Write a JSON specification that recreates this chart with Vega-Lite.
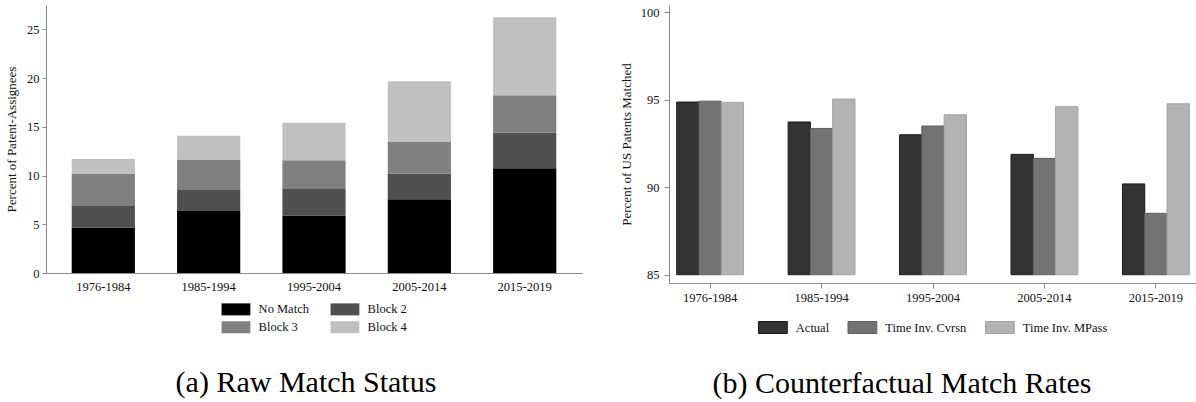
{
  "$schema": "https://vega.github.io/schema/vega-lite/v6.json",
  "padding": {"left": 5, "top": 5, "right": 0, "bottom": 0},
  "spacing": 38,
  "config": {
    "font": "Liberation Serif",
    "view": {"stroke": null},
    "axis": {
      "labelFont": "Liberation Serif", "titleFont": "Liberation Serif",
      "labelFontSize": 12.5, "titleFontSize": 13, "titleFontWeight": "normal",
      "labelColor": "#111111", "titleColor": "#111111",
      "domainColor": "#8a8a8a", "tickColor": "#8a8a8a", "grid": false
    },
    "legend": {
      "labelFont": "Liberation Serif", "labelFontSize": 12.5, "labelColor": "#111111"
    },
    "title": {"font": "Liberation Serif", "fontSize": 30, "fontWeight": "normal", "color": "#000000"}
  },
  "datasets": {
    "raw": [
      {"period": "1976-1984", "status": "No Match", "ord": 1, "pct": 4.67},
      {"period": "1976-1984", "status": "Block 2", "ord": 2, "pct": 2.29},
      {"period": "1976-1984", "status": "Block 3", "ord": 3, "pct": 3.24},
      {"period": "1976-1984", "status": "Block 4", "ord": 4, "pct": 1.5},
      {"period": "1985-1994", "status": "No Match", "ord": 1, "pct": 6.37},
      {"period": "1985-1994", "status": "Block 2", "ord": 2, "pct": 2.23},
      {"period": "1985-1994", "status": "Block 3", "ord": 3, "pct": 3.05},
      {"period": "1985-1994", "status": "Block 4", "ord": 4, "pct": 2.43},
      {"period": "1995-2004", "status": "No Match", "ord": 1, "pct": 5.9},
      {"period": "1995-2004", "status": "Block 2", "ord": 2, "pct": 2.8},
      {"period": "1995-2004", "status": "Block 3", "ord": 3, "pct": 2.88},
      {"period": "1995-2004", "status": "Block 4", "ord": 4, "pct": 3.84},
      {"period": "2005-2014", "status": "No Match", "ord": 1, "pct": 7.57},
      {"period": "2005-2014", "status": "Block 2", "ord": 2, "pct": 2.63},
      {"period": "2005-2014", "status": "Block 3", "ord": 3, "pct": 3.3},
      {"period": "2005-2014", "status": "Block 4", "ord": 4, "pct": 6.17},
      {"period": "2015-2019", "status": "No Match", "ord": 1, "pct": 10.76},
      {"period": "2015-2019", "status": "Block 2", "ord": 2, "pct": 3.64},
      {"period": "2015-2019", "status": "Block 3", "ord": 3, "pct": 3.83},
      {"period": "2015-2019", "status": "Block 4", "ord": 4, "pct": 8.02}
    ],
    "cf": [
      {"period": "1976-1984", "series": "Actual", "rate": 94.87},
      {"period": "1976-1984", "series": "Time Inv. Cvrsn", "rate": 94.92},
      {"period": "1976-1984", "series": "Time Inv. MPass", "rate": 94.85},
      {"period": "1985-1994", "series": "Actual", "rate": 93.73},
      {"period": "1985-1994", "series": "Time Inv. Cvrsn", "rate": 93.36},
      {"period": "1985-1994", "series": "Time Inv. MPass", "rate": 95.04},
      {"period": "1995-2004", "series": "Actual", "rate": 93.0},
      {"period": "1995-2004", "series": "Time Inv. Cvrsn", "rate": 93.5},
      {"period": "1995-2004", "series": "Time Inv. MPass", "rate": 94.14},
      {"period": "2005-2014", "series": "Actual", "rate": 91.88},
      {"period": "2005-2014", "series": "Time Inv. Cvrsn", "rate": 91.65},
      {"period": "2005-2014", "series": "Time Inv. MPass", "rate": 94.6},
      {"period": "2015-2019", "series": "Actual", "rate": 90.19},
      {"period": "2015-2019", "series": "Time Inv. Cvrsn", "rate": 88.51},
      {"period": "2015-2019", "series": "Time Inv. MPass", "rate": 94.77}
    ]
  },
  "hconcat": [
    {
      "width": 536,
      "height": 268,
      "data": {"name": "raw"},
      "title": {"text": "(a) Raw Match Status", "orient": "bottom", "anchor": "middle", "dx": -8, "offset": 75},
      "mark": {"type": "bar"},
      "encoding": {
        "x": {
          "field": "period", "type": "nominal", "sort": null,
          "scale": {"paddingInner": 0.4, "paddingOuter": 0.244},
          "axis": {"title": null, "labelAngle": 0, "ticks": false, "tickSize": 0, "labelPadding": 7}
        },
        "y": {
          "field": "pct", "type": "quantitative", "stack": "zero",
          "scale": {"domain": [0, 27.5], "nice": false},
          "axis": {"title": "Percent of Patent-Assignees", "values": [0, 5, 10, 15, 20, 25], "tickSize": 4, "labelPadding": 3, "titlePadding": 8}
        },
        "color": {
          "field": "status", "type": "nominal",
          "scale": {"domain": ["No Match", "Block 2", "Block 3", "Block 4"], "range": ["#000000", "#505050", "#808080", "#c0c0c0"]},
          "legend": {
            "title": null, "orient": "none", "legendX": 183.7, "legendY": 298,
            "direction": "horizontal", "columns": 2, "columnPadding": 20, "rowPadding": 5,
            "symbolType": "M-2.4,-1H2.4V1H-2.4Z", "symbolSize": 144, "symbolStrokeWidth": 0,
            "labelOffset": 16.4
          }
        },
        "order": {"field": "ord", "type": "quantitative"}
      }
    },
    {
      "width": 528,
      "height": 278,
      "data": {"name": "cf"},
      "title": {"text": "(b) Counterfactual Match Rates", "orient": "bottom", "anchor": "middle", "dx": -31, "offset": 65},
      "mark": {"type": "bar", "strokeWidth": 1},
      "encoding": {
        "x": {
          "field": "period", "type": "nominal",
          "scale": {"paddingInner": 0.4, "paddingOuter": 0.069},
          "axis": {"title": null, "labelAngle": 0, "tickSize": 5, "labelPadding": 3, "labelColor": "#111111"}
        },
        "xOffset": {
          "field": "series", "type": "nominal",
          "scale": {"domain": ["Actual", "Time Inv. Cvrsn", "Time Inv. MPass"], "paddingInner": 0, "paddingOuter": 0}
        },
        "y": {
          "field": "rate", "type": "quantitative",
          "scale": {"domain": [84.526, 100.417], "nice": false, "zero": false},
          "axis": {"title": "Percent of US Patents Matched", "values": [85, 90, 95, 100], "tickSize": 5, "labelPadding": 5, "titlePadding": 7, "labelColor": "#111111"}
        },
        "y2": {"datum": 85},
        "fill": {
          "field": "series", "type": "nominal",
          "scale": {"domain": ["Actual", "Time Inv. Cvrsn", "Time Inv. MPass"], "range": ["#333333", "#737373", "#b3b3b3"]},
          "legend": {
            "title": null, "orient": "none", "legendX": 720.4, "legendY": 315.75,
            "direction": "horizontal", "columnPadding": 16.5,
            "symbolType": "M-2.4,-1H2.4V1H-2.4Z", "symbolSize": 144, "symbolStrokeWidth": 1,
            "labelOffset": 16.4
          }
        },
        "stroke": {
          "field": "series", "type": "nominal",
          "scale": {"domain": ["Actual", "Time Inv. Cvrsn", "Time Inv. MPass"], "range": ["#1a1a1a", "#606060", "#a3a3a3"]},
          "legend": {
            "title": null, "orient": "none", "legendX": 720.4, "legendY": 315.75,
            "direction": "horizontal", "columnPadding": 16.5,
            "symbolType": "M-2.4,-1H2.4V1H-2.4Z", "symbolSize": 144, "symbolStrokeWidth": 1,
            "labelOffset": 16.4
          }
        }
      }
    }
  ]
}
